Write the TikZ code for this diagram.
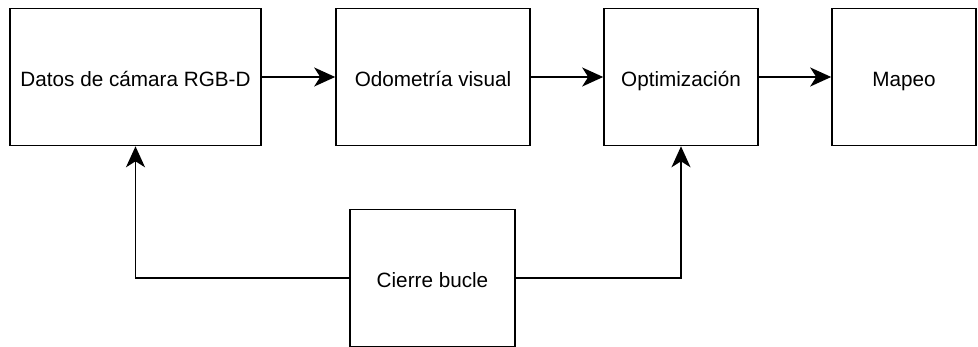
\documentclass[tikz,border=0pt]{standalone}
\usepackage{fontspec}
\setmainfont{Liberation Sans}
\usetikzlibrary{arrows.meta}
\begin{document}
\begin{tikzpicture}[x=1pt,y=-1pt,
  block/.style={draw=black, line width=1.6pt, fill=white, minimum height=137pt,
    inner sep=0pt, text height=19pt, text depth=0pt,
    font=\fontsize{20.7}{24}\selectfont},
  flow/.style={line width=1.8pt, -{Stealth[length=21pt,width=19pt,inset=6pt]}}]
  \useasboundingbox (0,0) rectangle (978,347);
  % pipeline stages
  \node[block, minimum width=251pt] (datos) at (135.5,77) {Datos de cámara RGB-D};
  \node[block, minimum width=194pt] (odom)  at (433,77)   {Odometría visual};
  \node[block, minimum width=154pt] (optim) at (681,77)   {Optimización};
  \node[block, minimum width=144pt] (mapeo) at (904,77)   {Mapeo};
  % loop closure
  \node[block, minimum width=165pt] (cierre) at (432.5,278) {Cierre bucle};
  % connections
  \draw[flow] (datos.east) -- (odom.west);
  \draw[flow] (odom.east) -- (optim.west);
  \draw[flow] (optim.east) -- (mapeo.west);
  \draw[flow] (cierre.west) -| (datos.south);
  \draw[flow] (cierre.east) -| (optim.south);
\end{tikzpicture}
\end{document}
